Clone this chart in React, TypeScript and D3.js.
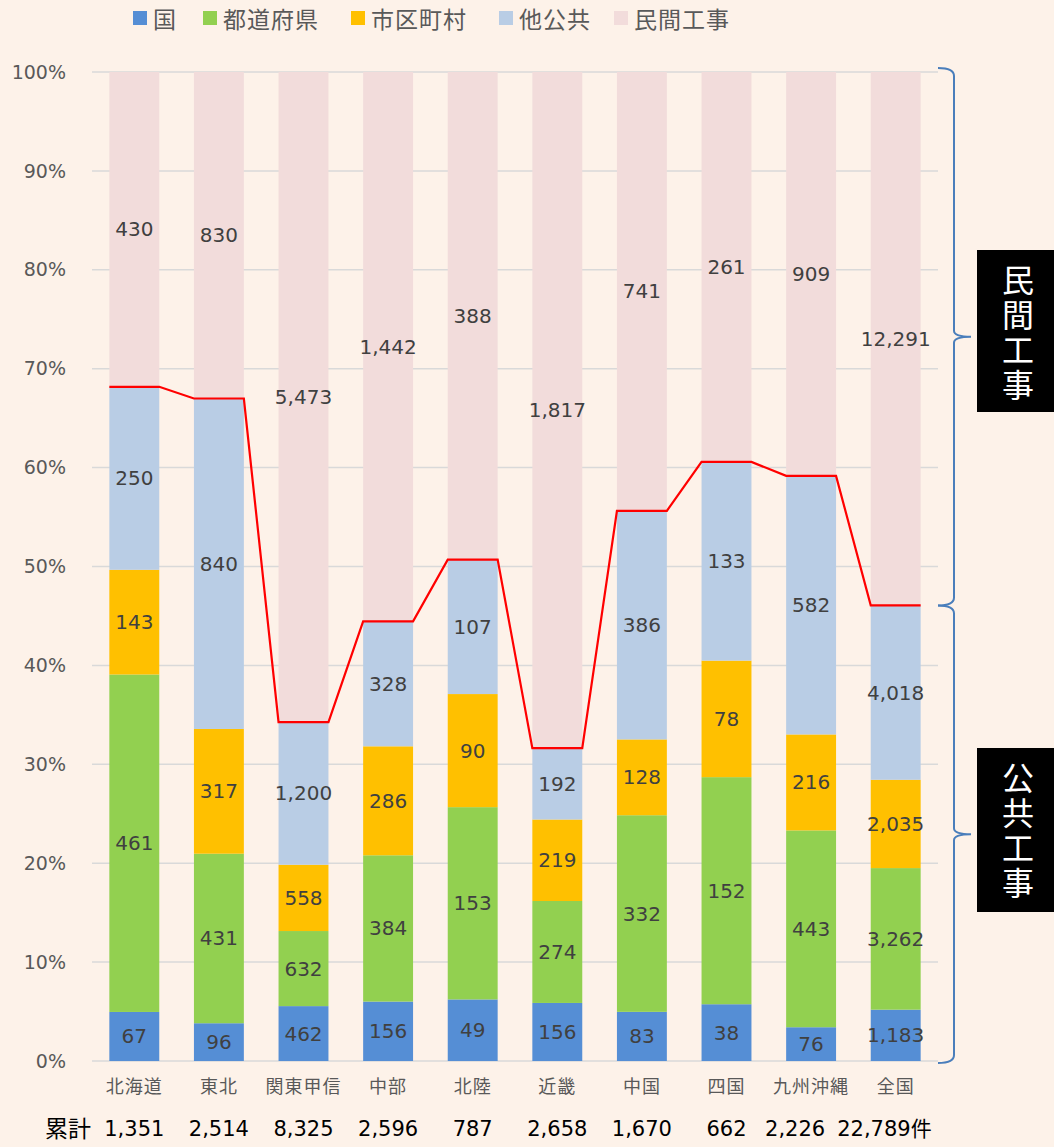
import { useEffect, useRef } from "react";
import * as d3 from "d3";

const regions = ["北海道", "東北", "関東甲信", "中部", "北陸", "近畿", "中国", "四国", "九州沖縄", "全国"];
const seriesNames = ["国", "都道府県", "市区町村", "他公共", "民間工事"];
const kuni = [67, 96, 462, 156, 49, 156, 83, 38, 76, 1183];
const todofuken = [461, 431, 632, 384, 153, 274, 332, 152, 443, 3262];
const shikuchoson = [143, 317, 558, 286, 90, 219, 128, 78, 216, 2035];
const takokyo = [250, 840, 1200, 328, 107, 192, 386, 133, 582, 4018];
const minkan = [430, 830, 5473, 1442, 388, 1817, 741, 261, 909, 12291];
const yTicks = [0, 0.1, 0.2, 0.3, 0.4, 0.5, 0.6, 0.7, 0.8, 0.9, 1];

const colors = ["#558ED5", "#92D050", "#FFC000", "#B9CDE5", "#F2DCDB"];
const FONT = "'DejaVu Sans', 'Noto Sans CJK JP', sans-serif";
const JP = "'Noto Sans CJK JP', sans-serif";

const App = () => {
  const svgRef = useRef<SVGSVGElement | null>(null);

  useEffect(() => {
    const svg = d3.select(svgRef.current);
    svg.selectAll("*").remove();
    const width = 1054;
    const height = 1147;

    svg.append("rect").attr("width", width).attr("height", height).attr("fill", "#FDF2E9");

    const rows = regions.map((r, i) => {
      const vals = [kuni[i], todofuken[i], shikuchoson[i], takokyo[i], minkan[i]];
      const total = d3.sum(vals);
      return { region: r, vals, total };
    });

    const x = d3.scaleBand().domain(regions).range([92, 938]).paddingInner(0.41).paddingOuter(0.205);
    const y = d3.scaleLinear().domain([0, 1]).range([1061, 72]);

    // gridlines
    svg
      .append("g")
      .selectAll("line")
      .data(yTicks)
      .join("line")
      .attr("x1", 92)
      .attr("x2", 938)
      .attr("y1", (d) => y(d))
      .attr("y2", (d) => y(d))
      .attr("stroke", "#D9D9D9")
      .attr("stroke-width", 1.5);

    // y tick labels
    svg
      .append("g")
      .selectAll("text")
      .data(yTicks)
      .join("text")
      .attr("x", 66)
      .attr("y", (d) => y(d))
      .attr("dy", "0.35em")
      .attr("text-anchor", "end")
      .attr("fill", "#595959")
      .attr("font-size", 19)
      .attr("font-family", FONT)
      .text((d) => `${Math.round(d * 100)}%`);

    // stacked bars
    const bw = x.bandwidth();
    rows.forEach((row) => {
      let cum = 0;
      const bx = x(row.region) ?? 0;
      row.vals.forEach((v, k) => {
        const a = cum / row.total;
        cum += v;
        const b = cum / row.total;
        svg
          .append("rect")
          .attr("x", bx)
          .attr("width", bw)
          .attr("y", y(b))
          .attr("height", y(a) - y(b))
          .attr("fill", colors[k]);
        svg
          .append("text")
          .attr("x", bx + bw / 2)
          .attr("y", y((a + b) / 2))
          .attr("dy", "0.35em")
          .attr("text-anchor", "middle")
          .attr("fill", "#404040")
          .attr("font-size", 20)
          .attr("font-family", FONT)
          .text(d3.format(",")(v));
      });
    });

    // red line on top of public works
    const pts: [number, number][] = [];
    rows.forEach((row) => {
      const share = d3.sum(row.vals.slice(0, 4)) / row.total;
      const bx = x(row.region) ?? 0;
      pts.push([bx, y(share)], [bx + bw, y(share)]);
    });
    svg
      .append("path")
      .attr("d", d3.line()(pts))
      .attr("fill", "none")
      .attr("stroke", "#FF0000")
      .attr("stroke-width", 2.2);

    // category labels
    svg
      .append("g")
      .selectAll("text")
      .data(regions)
      .join("text")
      .attr("x", (d) => (x(d) ?? 0) + bw / 2)
      .attr("y", 1087)
      .attr("dy", "0.35em")
      .attr("text-anchor", "middle")
      .attr("fill", "#595959")
      .attr("font-size", 18)
      .attr("letter-spacing", 1)
      .attr("font-family", JP)
      .text((d) => d);

    // totals row
    svg
      .append("text")
      .attr("x", 45)
      .attr("y", 1129)
      .attr("dy", "0.35em")
      .attr("fill", "#000")
      .attr("font-size", 23)
      .attr("font-family", JP)
      .text("累計");
    rows.forEach((row, i) => {
      const last = i === rows.length - 1;
      const shift = last ? 36 : i === rows.length - 2 ? -16 : 0;
      svg
        .append("text")
        .attr("x", (x(row.region) ?? 0) + bw / 2 + shift)
        .attr("y", 1129)
        .attr("dy", "0.35em")
        .attr("text-anchor", last ? "end" : "middle")
        .attr("fill", "#000")
        .attr("font-size", 21)
        .attr("font-family", FONT)
        .text(d3.format(",")(row.total) + (last ? "件" : ""));
    });

    // legend
    const legendX = [133, 203, 351, 499, 614];
    const lg = svg.append("g");
    seriesNames.forEach((s, k) => {
      lg.append("rect")
        .attr("x", legendX[k])
        .attr("y", 11)
        .attr("width", 14)
        .attr("height", 14)
        .attr("fill", colors[k]);
      lg.append("text")
        .attr("x", legendX[k] + 20)
        .attr("y", 19.5)
        .attr("dy", "0.35em")
        .attr("fill", "#595959")
        .attr("font-size", 23)
        .attr("letter-spacing", 1)
        .attr("font-family", JP)
        .text(s);
    });

    // braces
    const nat = rows[rows.length - 1];
    const split = y(d3.sum(nat.vals.slice(0, 4)) / nat.total);
    const brace = (top: number, bot: number) => {
      const x0 = 938;
      const xv = 954;
      const xt = 971;
      const mid = (top + bot) / 2;
      return `M${x0},${top} Q${xv},${top} ${xv},${top + 8} L${xv},${mid - 6} Q${xv},${mid} ${xt},${mid} Q${xv},${mid} ${xv},${mid + 6} L${xv},${bot - 8} Q${xv},${bot} ${x0},${bot}`;
    };
    [
      [y(1) - 4, split],
      [split, y(0) + 2],
    ].forEach(([t, b]) => {
      svg
        .append("path")
        .attr("d", brace(t, b))
        .attr("fill", "none")
        .attr("stroke", "#4A7EBB")
        .attr("stroke-width", 2);
    });

    // black boxes with vertical text
    const boxes = [
      { label: "民間工事", top: 250, h: 162 },
      { label: "公共工事", top: 748, h: 164 },
    ];
    boxes.forEach((b) => {
      svg.append("rect").attr("x", 977).attr("y", b.top).attr("width", 77).attr("height", b.h).attr("fill", "#000");
      svg
        .append("text")
        .attr("x", 1018)
        .attr("y", b.top + 14)
        .attr("writing-mode", "vertical-rl")
        .attr("letter-spacing", 3)
        .attr("fill", "#fff")
        .attr("font-size", 32)
        .attr("font-family", JP)
        .text(b.label);
    });
  }, []);

  return (
    <svg
      ref={svgRef}
      width={1054}
      height={1147}
      style={{ position: "absolute", left: 0, top: 0 }}
    />
  );
};

export default App;
